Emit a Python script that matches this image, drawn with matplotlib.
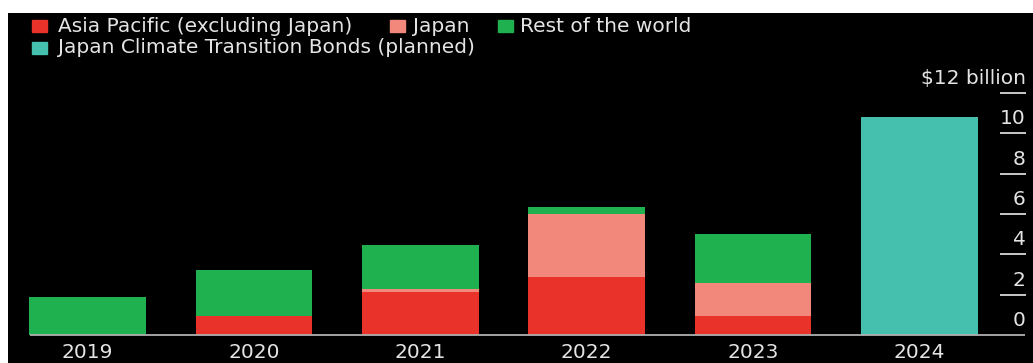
import matplotlib.pyplot as plt
from matplotlib.patches import Rectangle
import numpy as np

plt.rcParams['font.family'] = ['DejaVu Sans']

years = ['2019', '2020', '2021', '2022', '2023', '2024']
asia_pacific = [0, 0.94, 2.15, 2.86, 0.93, 0]
japan = [0, 0, 0.15, 3.14, 1.65, 0]
rest_of_world = [1.87, 2.27, 2.16, 0.33, 2.41, 0]
transition_bonds = [0, 0, 0, 0, 0, 10.8]
y_ticks = [0, 2, 4, 6, 8, 10, 12]
tick_labels = ['0', '2', '4', '6', '8', '10', '$12 billion']

series = [
    ('Asia Pacific (excluding Japan)', asia_pacific, '#e8322a'),
    ('Japan', japan, '#f2887c'),
    ('Rest of the world', rest_of_world, '#1fb04f'),
    ('Japan Climate Transition Bonds (planned)', transition_bonds, '#45bfae'),
]

W, H = 1033, 363
txt = '#e4e4e4'
fs = 14.5

fig = plt.figure(figsize=(W / 100, H / 100), dpi=100, facecolor='white')
ax = fig.add_axes([8 / W, 0, 1 - 8 / W, 1 - 13 / H], facecolor='black')
for s in ax.spines.values():
    s.set_visible(False)
ax.set_xticks([])
ax.set_yticks([])

x = np.arange(len(years))
bottom = np.zeros(len(years))
for name, vals, color in series:
    vals = np.array(vals)
    ax.bar(x, vals, 0.70, bottom=bottom, color=color, linewidth=0)
    bottom += vals

ax.set_xlim(-0.478, 5.682)
ax.set_ylim(-1.388, 15.96)

yt = ax.get_yaxis_transform()
ax.hlines(0, 0.0215, 0.992, transform=yt, color='#b0b0b0', lw=1.3)
ax.hlines(y_ticks[1:], 0.968, 0.993, transform=yt, color='#d8d8d8', lw=1.3)
for t, lab in zip(y_ticks, tick_labels):
    ax.text(0.993, t + 9 / 20.17, lab, transform=yt, ha='right', va='baseline',
            color=txt, fontsize=fs)

for xi, yr in zip(x, years):
    ax.text(xi, -23 / 20.17, yr, ha='center', va='baseline', color=txt, fontsize=fs)

# legend, drawn by hand: three entries on row one, one on row two
legend_pos = [(32, 58, 26), (390, 413, 26), (498, 520, 26), (32, 58, 47.5)]
for (name, vals, color), (sx, tx, ly) in zip(series, legend_pos):
    fig.patches.append(Rectangle((sx / W, 1 - (ly + 6) / H), 15 / W, 12 / H,
                                 transform=fig.transFigure, color=color))
    fig.text(tx / W, 1 - ly / H, name, va='center', ha='left',
             color=txt, fontsize=fs)

fig.savefig('out.png', dpi=100, facecolor='white')
